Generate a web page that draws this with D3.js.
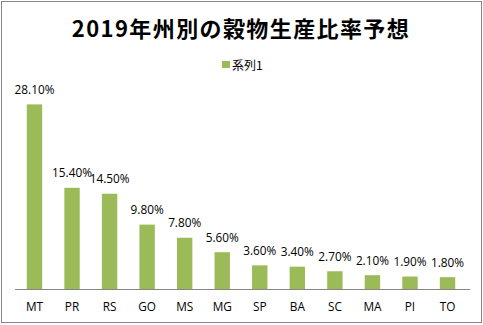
<!DOCTYPE html>
<html><head><meta charset="utf-8">
<script src="https://cdn.jsdelivr.net/npm/d3@7"></script>
<style>
body{margin:0;background:#fff;}
svg{display:block;}
</style></head>
<body>
<script>
const title = "2019年州別の穀物生産比率予想";
const seriesName = "系列1";
const categories = ["MT","PR","RS","GO","MS","MG","SP","BA","SC","MA","PI","TO"];
const values = [28.1,15.4,14.5,9.8,7.8,5.6,3.6,3.4,2.7,2.1,1.9,1.8];

const W = 483, H = 325;
const svg = d3.select("body").append("svg").attr("width", W).attr("height", H);
svg.append("rect").attr("x",1.5).attr("y",1.5).attr("width",W-3).attr("height",H-4)
  .attr("fill","#fff").attr("stroke","#868686").attr("stroke-width",1);

const font = "'Open Sans','Noto Sans',sans-serif";
const green = "#9BBB59";

svg.append("text").attr("x",241).attr("y",36.5).attr("text-anchor","middle")
  .attr("font-family","'Noto Sans CJK JP',sans-serif").attr("font-weight","bold")
  .attr("font-size",22).attr("letter-spacing",1.4).attr("fill","#000").text(title);

// legend
svg.append("rect").attr("x",222).attr("y",61).attr("width",8).attr("height",7).attr("fill",green);
svg.append("text").attr("x",232).attr("y",69.5).attr("font-family","'Noto Sans CJK JP',sans-serif")
  .attr("font-size",12).attr("fill","#000").text(seriesName);

const x = d3.scaleBand().domain(categories).range([15.7,466.3]).paddingInner(0.59).paddingOuter(0.295);
const y = d3.scaleLinear().domain([0,30]).range([289,91.9]);

svg.selectAll("rect.bar").data(values).join("rect").attr("class","bar")
  .attr("x",(d,i)=>x(categories[i])).attr("width",x.bandwidth())
  .attr("y",d=>y(d)).attr("height",d=>y(0)-y(d)).attr("fill",green);

svg.selectAll("text.lbl").data(values).join("text").attr("class","lbl")
  .attr("x",(d,i)=>x(categories[i])+x.bandwidth()/2).attr("y",d=>y(d)-10.5)
  .attr("text-anchor","middle").attr("font-family",font).attr("font-size",11.8)
  .attr("fill","#000").text(d=>d.toFixed(2)+"%");

const xAxis = d3.axisBottom(x).tickSize(0).tickPadding(13);
const g = svg.append("g").attr("transform","translate(0,289.5)").call(xAxis);
g.select(".domain").attr("stroke","#868686").attr("d","M15,0H470");
g.selectAll("text").attr("font-family",font).attr("font-size",11.8).attr("fill","#000");
</script>
</body></html>
